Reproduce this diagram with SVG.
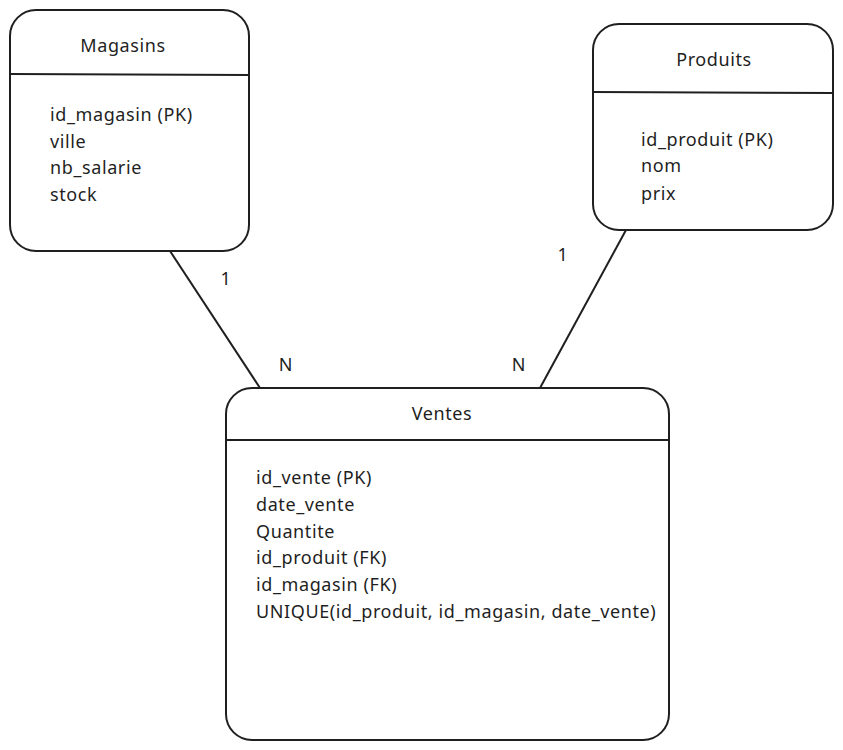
<svg xmlns="http://www.w3.org/2000/svg" width="843" height="750" viewBox="0 0 843 750">
<style>
.box{fill:#fff;stroke:#1f1f1f;stroke-width:2}
.div{stroke:#1f1f1f;stroke-width:2}
.conn{stroke:#1f1f1f;stroke-width:2;fill:none}
text{font-family:"Noto Sans","Open Sans",sans-serif;font-size:18px;letter-spacing:0.6px;fill:#1f1f1f}
.t{text-anchor:middle}
</style>
<rect width="843" height="750" fill="#fff"/>
<g id="connectors">
<line class="conn" x1="170" y1="251" x2="260" y2="388"/>
<line class="conn" x1="626" y1="230" x2="540" y2="388"/>
<text class="t" x="226" y="285">1</text>
<text class="t" x="286" y="371">N</text>
<text class="t" x="519" y="371">N</text>
<text class="t" x="563" y="261">1</text>
</g>
<g id="magasins">
<rect class="box" x="10" y="10" width="239" height="241" rx="26"/>
<line class="div" x1="10" y1="74" x2="249" y2="75"/>
<text class="t" x="123" y="52">Magasins</text>
<text x="50" y="121">id_magasin (PK)</text>
<text x="50" y="148">ville</text>
<text x="50" y="174">nb_salarie</text>
<text x="50" y="201">stock</text>
</g>
<g id="produits">
<rect class="box" x="593" y="24" width="240" height="206" rx="26"/>
<line class="div" x1="593" y1="92" x2="834" y2="93"/>
<text class="t" x="714" y="66">Produits</text>
<text x="641" y="146">id_produit (PK)</text>
<text x="641" y="172">nom</text>
<text x="641" y="200">prix</text>
</g>
<g id="ventes">
<rect class="box" x="226" y="388" width="443" height="352" rx="26"/>
<line class="div" x1="226" y1="440" x2="669" y2="440"/>
<text class="t" x="442" y="420">Ventes</text>
<text x="256" y="484">id_vente (PK)</text>
<text x="256" y="511">date_vente</text>
<text x="256" y="538">Quantite</text>
<text x="256" y="564">id_produit (FK)</text>
<text x="256" y="591">id_magasin (FK)</text>
<text x="256" y="618">UNIQUE(id_produit, id_magasin, date_vente)</text>
</g>
</svg>
